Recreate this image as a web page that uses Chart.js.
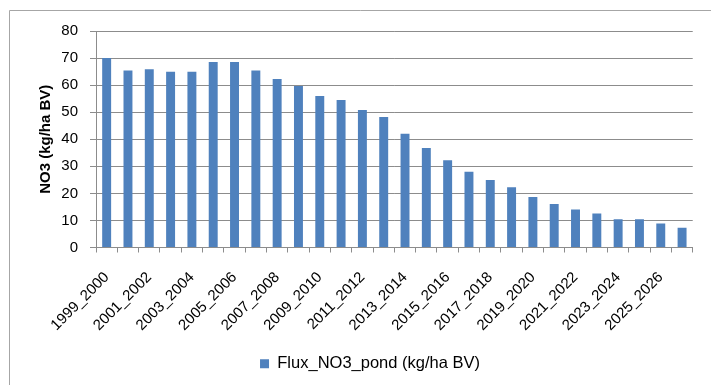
<!DOCTYPE html>
<html>
<head>
<meta charset="utf-8">
<script src="https://cdn.jsdelivr.net/npm/chart.js@4"></script>
<style>
  body { margin: 0; background: #fff; }
  #wrap { width: 711px; height: 385px; position: relative; }
</style>
</head>
<body>
<div id="wrap"><canvas id="fluxChart" width="711" height="385"></canvas></div>
<script>
var years = ["1999_2000", "2000_2001", "2001_2002", "2002_2003", "2003_2004", "2004_2005",
    "2005_2006", "2006_2007", "2007_2008", "2008_2009", "2009_2010", "2010_2011",
    "2011_2012", "2012_2013", "2013_2014", "2014_2015", "2015_2016", "2016_2017",
    "2017_2018", "2018_2019", "2019_2020", "2020_2021", "2021_2022", "2022_2023",
    "2023_2024", "2024_2025", "2025_2026", "2026_2027"];
var fluxNO3 = [70, 65.4, 65.9, 64.9, 64.9, 68.5, 68.5, 65.4, 62.3, 59.7, 56.0, 54.5,
    50.8, 48.2, 42.0, 36.8, 32.2, 28.0, 24.9, 22.3, 18.7, 16.1, 14.0, 12.6,
    10.4, 10.4, 8.9, 7.3];
var yTicks = [0, 10, 20, 30, 40, 50, 60, 70, 80];

var fontName = "'Liberation Sans', Arial, sans-serif";

// thin frame on the left and top, like the excel chart border
var frame = {
    id: "frame",
    beforeDraw: function (chart) {
        var ctx = chart.ctx;
        ctx.save();
        ctx.strokeStyle = "#a6a6a6";
        ctx.lineWidth = 1;
        ctx.beginPath();
        ctx.moveTo(9.5, 385);
        ctx.lineTo(9.5, 10.5);
        ctx.lineTo(711, 10.5);
        ctx.stroke();
        ctx.restore();
    },
    // excel puts the legend a bit right of the middle
    afterLayout: function (chart) {
        chart.legend.left += 20;
        chart.legend.right += 20;
    }
};

new Chart("fluxChart", {
    type: "bar",
    data: {
        labels: years,
        datasets: [{
            label: "Flux_NO3_pond (kg/ha BV)",
            data: fluxNO3,
            backgroundColor: "#4f81bd",
            borderWidth: 0,
            barPercentage: 0.42,
            categoryPercentage: 1
        }]
    },
    options: {
        responsive: false,
        animation: false,
        layout: {
            padding: { left: 0, right: 11, top: 31, bottom: 3 }
        },
        plugins: {
            legend: {
                position: "bottom",
                labels: {
                    boxWidth: 9,
                    boxHeight: 9,
                    padding: 10,
                    color: "#000",
                    font: { family: fontName, size: 16.5 }
                }
            },
            tooltip: { enabled: false }
        },
        scales: {
            y: {
                min: 0,
                max: 80,
                afterFit: function (scale) { scale.width = 96; },
                afterBuildTicks: function (scale) {
                    scale.ticks = yTicks.map(function (v) { return { value: v }; });
                },
                ticks: {
                    color: "#000",
                    padding: 12,
                    font: { family: fontName, size: 15 }
                },
                grid: {
                    color: "#8c8c8c",
                    tickLength: 6
                },
                border: { color: "#8c8c8c" },
                title: {
                    display: true,
                    text: "NO3 (kg/ha BV)",
                    color: "#000",
                    padding: { top: 37, bottom: 0 },
                    font: { family: fontName, size: 15, weight: "bold" }
                }
            },
            x: {
                afterFit: function (scale) { scale.height = 98; },
                ticks: {
                    autoSkip: false,
                    maxRotation: 45,
                    minRotation: 45,
                    padding: 16,
                    color: "#000",
                    font: { family: fontName, size: 15 },
                    callback: function (val, i) {
                        return i % 2 === 0 ? this.getLabelForValue(val) : "";
                    }
                },
                grid: {
                    offset: true,
                    drawOnChartArea: false,
                    color: "#8c8c8c",
                    tickLength: 5
                },
                border: { color: "#8c8c8c" }
            }
        }
    },
    plugins: [frame]
});
</script>
</body>
</html>
